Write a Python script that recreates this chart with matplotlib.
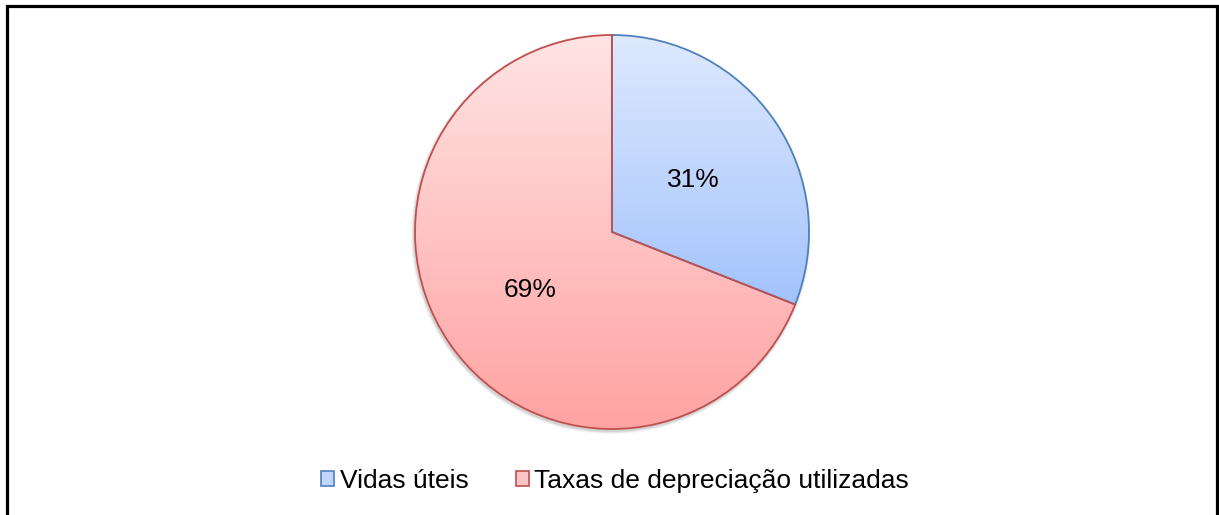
import numpy as np
import matplotlib
matplotlib.use('Agg')
import matplotlib.pyplot as plt
from matplotlib.patches import Rectangle, Patch, Circle
from matplotlib.colors import LinearSegmentedColormap

plt.rcParams['font.family'] = ['Liberation Sans', 'DejaVu Sans']

# data
labels = ['Vidas úteis', 'Taxas de depreciação utilizadas']
values = [31, 69]
edge_colors = ['#4f81bd', '#c0504d']
top_colors = ['#dee9fe', '#ffe4e4']
bottom_colors = ['#a3c3fc', '#ffa2a2']
legend_fill = ['#c2d6fb', '#ffc4c4']

W, H = 1219, 515
fig = plt.figure(figsize=(W / 100, H / 100), dpi=100)
ax = fig.add_axes([0, 0, 1, 1])

cx, cy, r = 612, H - 232, 197

# soft shadow behind the pie
for k, a in zip([6, 4, 2], [0.04, 0.06, 0.08]):
    ax.add_patch(Circle((cx - 1, cy - 2), r + k * 0.5, color='black', alpha=a, lw=0, zorder=0))

wedges, texts, autotexts = ax.pie(values, startangle=90, counterclock=False,
                                  center=(cx, cy), radius=r, frame=True,
                                  autopct='%.0f%%', pctdistance=0.5,
                                  textprops=dict(fontsize=19, color='black'),
                                  wedgeprops=dict(linewidth=1.3))
ax.set_aspect('auto')
ax.axis('off')

for i, w in enumerate(wedges):
    w.set_facecolor('none')
    w.set_edgecolor(edge_colors[i])
    w.set_zorder(3)
    verts = w.get_path().vertices
    y0, y1 = verts[:, 1].min(), verts[:, 1].max()
    cmap = LinearSegmentedColormap.from_list('g%d' % i, [bottom_colors[i], top_colors[i]])
    grad = np.linspace(0, 1, 256).reshape(-1, 1)
    im = ax.imshow(grad, cmap=cmap, origin='lower', aspect='auto',
                   extent=(cx - r, cx + r, y0, y1), zorder=2, interpolation='bilinear')
    im.set_clip_path(w)
for t in autotexts:
    x, y = t.get_position()
    t.set_position((x, y - 3))
    t.set_zorder(5)

ax.set_xlim(0, W)
ax.set_ylim(0, H)

handles = [Patch(facecolor=legend_fill[i], edgecolor=edge_colors[i], linewidth=1.2)
           for i in range(len(labels))]
fig.legend(handles, labels, loc='center', bbox_to_anchor=(615 / W, 1 - 481 / H),
           ncol=2, frameon=False, fontsize=19, handlelength=0.5, handleheight=0.5,
           handletextpad=0.2, columnspacing=1.8)

# outer frame
fig.add_artist(Rectangle((6.5 / W, -0.05), (1216.5 - 6.5) / W, 1.05 - 6.5 / H,
                         transform=fig.transFigure, fill=False, edgecolor='black', linewidth=2.3))

fig.savefig('out.png', dpi=100)
